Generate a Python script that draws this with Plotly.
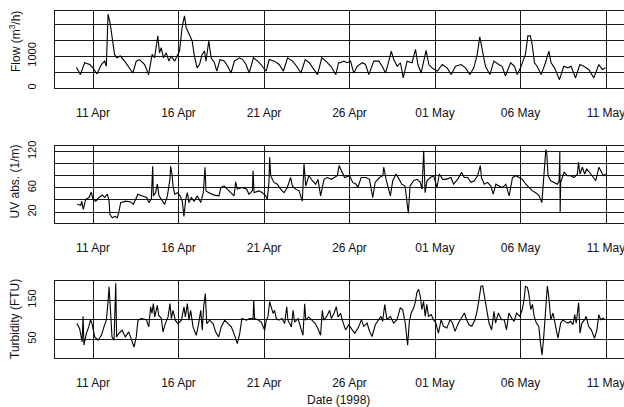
import numpy as np
import pandas as pd
import plotly.graph_objects as go

# Time is given as day of April 1998 (values above 30 continue into May: 31 = 01 May)
flow_day = [10.03, 10.26, 10.51, 10.81, 11.00, 11.23, 11.49, 11.68, 11.78, 11.88,
            12.01, 12.13, 12.26, 12.40, 12.60, 12.85, 13.14, 13.33, 13.53, 13.72,
            14.02, 14.25, 14.46, 14.60, 14.79, 14.89, 14.99, 15.12, 15.28, 15.44,
            15.57, 15.77, 15.96, 16.06, 16.21, 16.35, 16.45, 16.64, 16.80, 16.93,
            17.09, 17.23, 17.38, 17.52, 17.61, 17.77, 17.91, 18.10, 18.24, 18.43,
            18.68, 18.88, 19.07, 19.27, 19.56, 19.75, 19.95, 20.14, 20.38, 20.63,
            20.82, 21.12, 21.31, 21.60, 21.89, 22.13, 22.38, 22.67, 22.91, 23.16,
            23.41, 23.65, 23.84, 24.13, 24.38, 24.62, 24.91, 25.20, 25.36,
            25.47, 25.67, 25.86, 26.06, 26.25, 26.45, 26.74, 26.94, 27.13, 27.42,
            27.72, 27.91, 28.11, 28.30, 28.44, 28.59, 28.79, 28.98, 29.14, 29.37,
            29.66, 29.86, 30.00, 30.19, 30.35, 30.48, 30.64, 30.83, 31.13, 31.42,
            31.71, 31.95, 32.20, 32.53, 32.78, 33.04, 33.27, 33.47, 33.62, 33.76,
            33.95, 34.21, 34.44, 34.73, 34.93, 35.12, 35.42, 35.65, 35.81, 36.00,
            36.29, 36.43, 36.58, 36.68, 36.82, 36.97, 37.21, 37.46, 37.66, 37.79,
            37.99, 38.28, 38.53, 38.77, 38.96, 39.22, 39.47, 39.70, 39.99, 40.29,
            40.58, 40.78, 40.97]
flow = [650, 420, 790, 735, 630, 440, 735, 840, 680, 2310,
        2000, 1575, 1050, 945, 1000, 840, 630, 470, 840, 890,
        735, 420, 1050, 945, 1630, 1100, 1260, 945, 1100, 840,
        1000, 840, 1050, 1155, 1890, 2260, 1890, 1680, 1470, 1000,
        630, 735, 1050, 1155, 840, 1470, 945, 790, 525, 890,
        840, 680, 470, 840, 945, 890, 735, 470, 945, 840,
        735, 525, 890, 840, 735, 525, 945, 840, 680, 470,
        890, 790, 630, 420, 945, 840, 680, 420, 790,
        790, 840, 790, 840, 470, 680, 790, 735, 420, 840,
        840, 680, 470, 840, 1155, 890, 680, 790, 315, 840,
        790, 1210, 735, 470, 840, 1180, 735, 630, 525, 735,
        630, 420, 680, 735, 630, 420, 630, 1050, 1600, 1155,
        680, 420, 840, 735, 680, 370, 790, 680, 420, 630,
        1050, 1630, 1630, 1365, 790, 680, 420, 790, 1155, 790,
        630, 260, 680, 630, 680, 315, 735, 680, 580, 315,
        735, 580, 630]

uv_day = [10.08, 10.28, 10.34, 10.43, 10.57, 10.77, 10.90, 11.00, 11.16, 11.35,
          11.55, 11.68, 11.84, 11.94, 11.99, 12.13, 12.29, 12.42, 12.52, 12.62,
          12.91, 13.20, 13.36, 13.50, 13.63, 13.89, 14.14, 14.27, 14.41, 14.49,
          14.53, 14.66, 14.76, 14.86, 15.00, 15.19, 15.35, 15.50, 15.54, 15.62,
          15.68, 15.78, 15.93, 16.09, 16.22, 16.32, 16.42, 16.52, 16.61, 16.75,
          16.91, 17.10, 17.30, 17.45, 17.55, 17.61, 17.78, 18.08, 18.37, 18.47,
          18.66, 18.86, 19.05, 19.25, 19.34, 19.44, 19.73, 19.99, 20.12, 20.32,
          20.36, 20.42, 20.71, 20.90, 21.10, 21.19, 21.29, 21.33, 21.39, 21.49,
          21.58, 21.78, 21.97, 22.17, 22.36, 22.56, 22.66, 22.85, 23.05, 23.24,
          23.34, 23.44, 23.63, 23.83, 24.02, 24.16, 24.31, 24.51, 24.70, 24.94,
          25.09, 25.29, 25.39,
          25.71, 26.00, 26.19, 26.39, 26.49, 26.68, 26.97, 27.17, 27.36, 27.50,
          27.75, 27.95, 28.00, 28.14, 28.39, 28.53, 28.72, 28.91, 29.05, 29.25,
          29.44, 29.54, 29.75, 29.95, 30.14, 30.24, 30.34, 30.42, 30.53, 30.73,
          30.92, 31.12, 31.25, 31.45, 31.64, 31.93, 32.09, 32.32, 32.56, 32.71,
          32.91, 33.10, 33.30, 33.49, 33.65, 33.72, 33.88, 34.07, 34.27, 34.40,
          34.56, 34.75, 34.95, 35.14, 35.34, 35.53, 35.73, 35.92, 36.12, 36.31,
          36.51, 36.70, 36.89, 37.09, 37.25, 37.32, 37.42, 37.48, 37.54, 37.61,
          37.77, 37.96, 38.16, 38.26, 38.30, 38.32, 38.35, 38.55, 38.74, 38.94,
          39.13, 39.33, 39.39, 39.48, 39.62, 39.75, 39.87, 40.11, 40.40, 40.59,
          40.73, 40.84, 40.98]
uv = [32.8, 31, 38, 24.4, 41, 44, 53, 41, 38, 44,
      48, 44, 49.5, 38, 16, 10.6, 13, 10.6, 21.7, 35.6,
      38, 36.7, 32.8, 41, 49.5, 46.7, 44, 35.6, 42, 95.6,
      46.7, 52, 66, 46.7, 41, 32.8, 46.7, 74.4, 95.6, 82.8,
      63.3, 49.5, 52, 46.7, 38, 13, 41, 52, 35.6, 44,
      38, 46.7, 35.6, 52, 94, 55, 52, 48, 46.7, 60.5,
      63.3, 57.8, 52, 46.7, 70, 57.8, 60.5, 57.8, 49.5, 55,
      88, 52, 55, 52, 46.7, 41, 69, 110.6, 80, 74,
      69, 66, 57.8, 52, 60.5, 77, 63, 57.8, 55, 38,
      99.4, 63, 80, 71.7, 66, 74, 46.7, 74, 77, 74,
      77, 80, 96.7,
      77, 80, 69, 66, 60.5, 77, 77, 74, 44, 69,
      77, 80, 94, 74, 46.7, 71.7, 82.8, 74, 66, 63,
      17.8, 63, 71.7, 74, 69, 57.8, 121, 52, 71.7, 77,
      80, 60.5, 82.8, 74, 74, 77, 66, 74, 85.5, 77,
      77, 69, 71.7, 80, 96.7, 77, 66, 69, 63, 49.5,
      66, 63, 60.5, 66, 46.7, 77, 80, 77, 74, 66,
      60.5, 55, 52, 46.7, 35.6, 63, 102, 123, 116, 80,
      71.7, 69, 66, 71.7, 119, 20, 69, 85.5, 80, 80,
      77, 82.8, 102, 82.8, 94, 82.8, 91, 82.8, 71.7, 94,
      85.5, 80, 82.8]

turb_day = [10.06, 10.22, 10.36, 10.42, 10.47, 10.61, 10.75, 10.86, 10.94, 11.10,
            11.29, 11.49, 11.64, 11.78, 11.88, 11.94, 12.01, 12.11, 12.23, 12.33,
            12.38, 12.50, 12.70, 12.89, 13.09, 13.24, 13.40, 13.53, 13.63, 13.83,
            14.12, 14.26, 14.37, 14.45, 14.53, 14.61, 14.76, 14.84, 15.00, 15.09,
            15.23, 15.39, 15.50, 15.58, 15.68, 15.81, 15.97, 16.17, 16.32, 16.40,
            16.52, 16.61, 16.71, 16.85, 17.04, 17.18, 17.30, 17.39, 17.47, 17.57,
            17.65, 17.82, 18.02, 18.17, 18.35, 18.50, 18.70, 18.89, 19.09, 19.28,
            19.44, 19.58, 19.71, 19.97, 20.16, 20.36, 20.40, 20.45, 20.65, 20.84,
            21.04, 21.14, 21.23, 21.33, 21.43, 21.53, 21.62, 21.72, 21.86, 22.05,
            22.21, 22.33, 22.40, 22.60, 22.70, 22.79, 22.99, 23.14, 23.28, 23.38,
            23.44, 23.61, 23.81, 24.00, 24.16, 24.31, 24.41, 24.49, 24.65, 24.84,
            24.94, 25.09, 25.23, 25.33, 25.48,
            25.57, 25.77, 25.96, 26.16, 26.31, 26.50, 26.70, 26.83, 27.03, 27.17,
            27.32, 27.51, 27.71, 27.84, 27.94, 28.06, 28.19, 28.39, 28.58, 28.78,
            28.97, 29.11, 29.26, 29.40, 29.50, 29.61, 29.75, 29.84, 29.94, 30.04,
            30.14, 30.23, 30.33, 30.43, 30.52, 30.62, 30.78, 30.91, 31.05, 31.20,
            31.36, 31.50, 31.69, 31.88, 32.02, 32.17, 32.37, 32.56, 32.72, 32.85,
            32.99, 33.15, 33.34, 33.48, 33.59, 33.69, 33.79, 33.88, 34.02, 34.16,
            34.31, 34.45, 34.54, 34.70, 34.89, 35.05, 35.18, 35.32, 35.48, 35.63,
            35.77, 35.96, 36.10, 36.21, 36.29, 36.41, 36.49, 36.60, 36.70, 36.80,
            36.93, 37.07, 37.17, 37.26, 37.36, 37.46, 37.57, 37.65, 37.77, 37.90,
            38.04, 38.19, 38.35, 38.49, 38.58, 38.78, 38.93, 39.07, 39.17, 39.26,
            39.40, 39.48, 39.59, 39.75, 39.84, 39.98, 40.14, 40.33, 40.47, 40.58,
            40.68, 40.82, 40.95]
turb = [90, 77, 43, 109, 35, 64.5, 81.6, 100, 90, 56,
        47.4, 60, 81.6, 98.7, 146, 184, 133, 56, 47.4, 193,
        56, 64.5, 73, 56, 68.8, 47.4, 30, 56, 98.7, 103,
        100, 81.6, 133, 116, 141, 107, 137, 111.5, 103, 68.8,
        90, 107, 141, 103, 124, 98.7, 90, 98.7, 133, 107,
        141, 98.7, 124, 81.6, 60, 90, 124, 73, 133, 167,
        90, 98.7, 90, 68.8, 56, 81.6, 98.7, 90, 81.6, 60,
        38.9, 64.5, 103, 98.7, 103, 103, 150, 103, 100, 94,
        73, 98.7, 107, 146, 128.6, 116, 124, 103, 98.7, 103,
        90, 133, 98.7, 81.6, 124, 94, 103, 81.6, 60, 141,
        98.7, 107, 98.7, 90, 77, 60, 124, 98.7, 107, 124,
        103, 116, 133, 107, 116,
        100, 74, 87, 74, 65.5, 78.5, 100, 83, 91.4, 70,
        57, 87, 100, 108.6, 95.7, 139, 100, 108.6, 91.4, 100,
        130, 126, 91.4, 35, 95.7, 117, 130, 143, 169, 177.6,
        160, 126, 147, 108.6, 139, 108.6, 113, 100, 91.4, 65.5,
        100, 83, 78.5, 100, 91.4, 70, 91.4, 104, 117, 100,
        87, 83, 100, 126, 160, 186, 186, 160, 126, 91.4,
        74, 121.6, 91.4, 117, 100, 100, 74, 117, 104, 95.7,
        117, 108.6, 126, 152, 186, 182, 165, 126, 139, 108.6,
        91.4, 83, 40, 9.5, 57, 117, 186, 160, 100, 117,
        83, 52.6, 91.4, 100, 95.7, 91.4, 95.7, 87, 113, 91.4,
        143, 65.5, 91.4, 100, 108.6, 83, 74, 52.6, 74, 113,
        100, 104, 100]

tick_dates = ["1998-04-11", "1998-04-16", "1998-04-21", "1998-04-26",
              "1998-05-01", "1998-05-06", "1998-05-11"]
tick_labels = ["11 Apr", "16 Apr", "21 Apr", "26 Apr", "01 May", "06 May", "11 May"]

# labelled y ticks and the extra (unlabelled) grid levels
flow_ticks = [0, 1000]
flow_grid = [500, 1500, 2000]
uv_ticks = [20, 60, 120]
uv_grid = [40, 80, 100]
turb_ticks = [50, 150]
turb_grid = [100]


def to_time(days):
    return pd.Timestamp("1998-04-01") + pd.to_timedelta(np.asarray(days, float) - 1.0, unit="D")


FONT = "Liberation Sans, Arial, Helvetica, sans-serif"
GRID = "#1a1a1a"
X_RANGE = ["1998-04-08 18:40", "1998-05-12 01:16"]

fig = go.Figure()
for days, vals, xa, ya in [(flow_day, flow, "x", "y"),
                           (uv_day, uv, "x2", "y2"),
                           (turb_day, turb, "x3", "y3")]:
    fig.add_trace(go.Scatter(x=to_time(days), y=vals, mode="lines",
                             line=dict(color="black", width=1.1),
                             xaxis=xa, yaxis=ya, showlegend=False,
                             hoverinfo="skip"))


def xax(anchor):
    return dict(domain=[0, 1], anchor=anchor, range=X_RANGE, type="date",
                tickmode="array", tickvals=tick_dates, ticktext=tick_labels,
                showgrid=True, gridcolor=GRID, gridwidth=1,
                showline=True, linecolor=GRID, linewidth=1, mirror=True,
                ticks="", ticklabelstandoff=14, ticklabeloverflow="allow",
                tickfont=dict(size=12, color="#111", family=FONT),
                zeroline=False, automargin=False)


def yax(anchor, domain, rng, vals, grid):
    return dict(domain=domain, anchor=anchor, range=rng,
                tickmode="array", tickvals=vals, ticktext=[str(v) for v in vals],
                tickangle=-90,
                showgrid=True, gridcolor=GRID, gridwidth=1,
                minor=dict(tickmode="array", tickvals=grid, showgrid=True,
                           gridcolor=GRID, gridwidth=1, ticks=""),
                showline=True, linecolor=GRID, linewidth=1, mirror=True,
                ticks="", ticklabelstandoff=14,
                tickfont=dict(size=11, color="#111", family=FONT),
                zeroline=False, automargin=False)


fig.update_layout(
    width=624, height=407,
    margin=dict(l=55, r=0, t=0, b=0),
    paper_bgcolor="white", plot_bgcolor="white",
    font=dict(family=FONT, size=12, color="#111"),
    xaxis=xax("y"), xaxis2=xax("y2"), xaxis3=xax("y3"),
    yaxis=yax("x", [0.7838, 0.9730], [0, 2410], flow_ticks, flow_grid),
    yaxis2=yax("x2", [0.4521, 0.6413], [2, 129], uv_ticks, uv_grid),
    yaxis3=yax("x3", [0.1204, 0.3096], [2, 199], turb_ticks, turb_grid),
)
fig.update_layout(yaxis=dict(zeroline=True, zerolinecolor="black", zerolinewidth=2.5))

titles = [("Flow (m<sup>3</sup>/h)", 0.8993), ("UV abs. (1/m)", 0.554),
          ("Turbidity (FTU)", 0.2162)]
for txt, yy in titles:
    fig.add_annotation(text=txt, xref="paper", yref="paper", x=-0.0703, y=yy,
                       xanchor="center", yanchor="middle", textangle=-90,
                       showarrow=False, font=dict(size=12, color="#111", family=FONT))
fig.add_annotation(text="Date (1998)", xref="paper", yref="paper", x=0.4974, y=0.0172,
                   xanchor="center", yanchor="middle", showarrow=False,
                   font=dict(size=12, color="#111", family=FONT))

fig.write_html("out.html", config={"displayModeBar": False},
               post_script="document.body.style.margin='0px';document.body.style.overflow='hidden';")
